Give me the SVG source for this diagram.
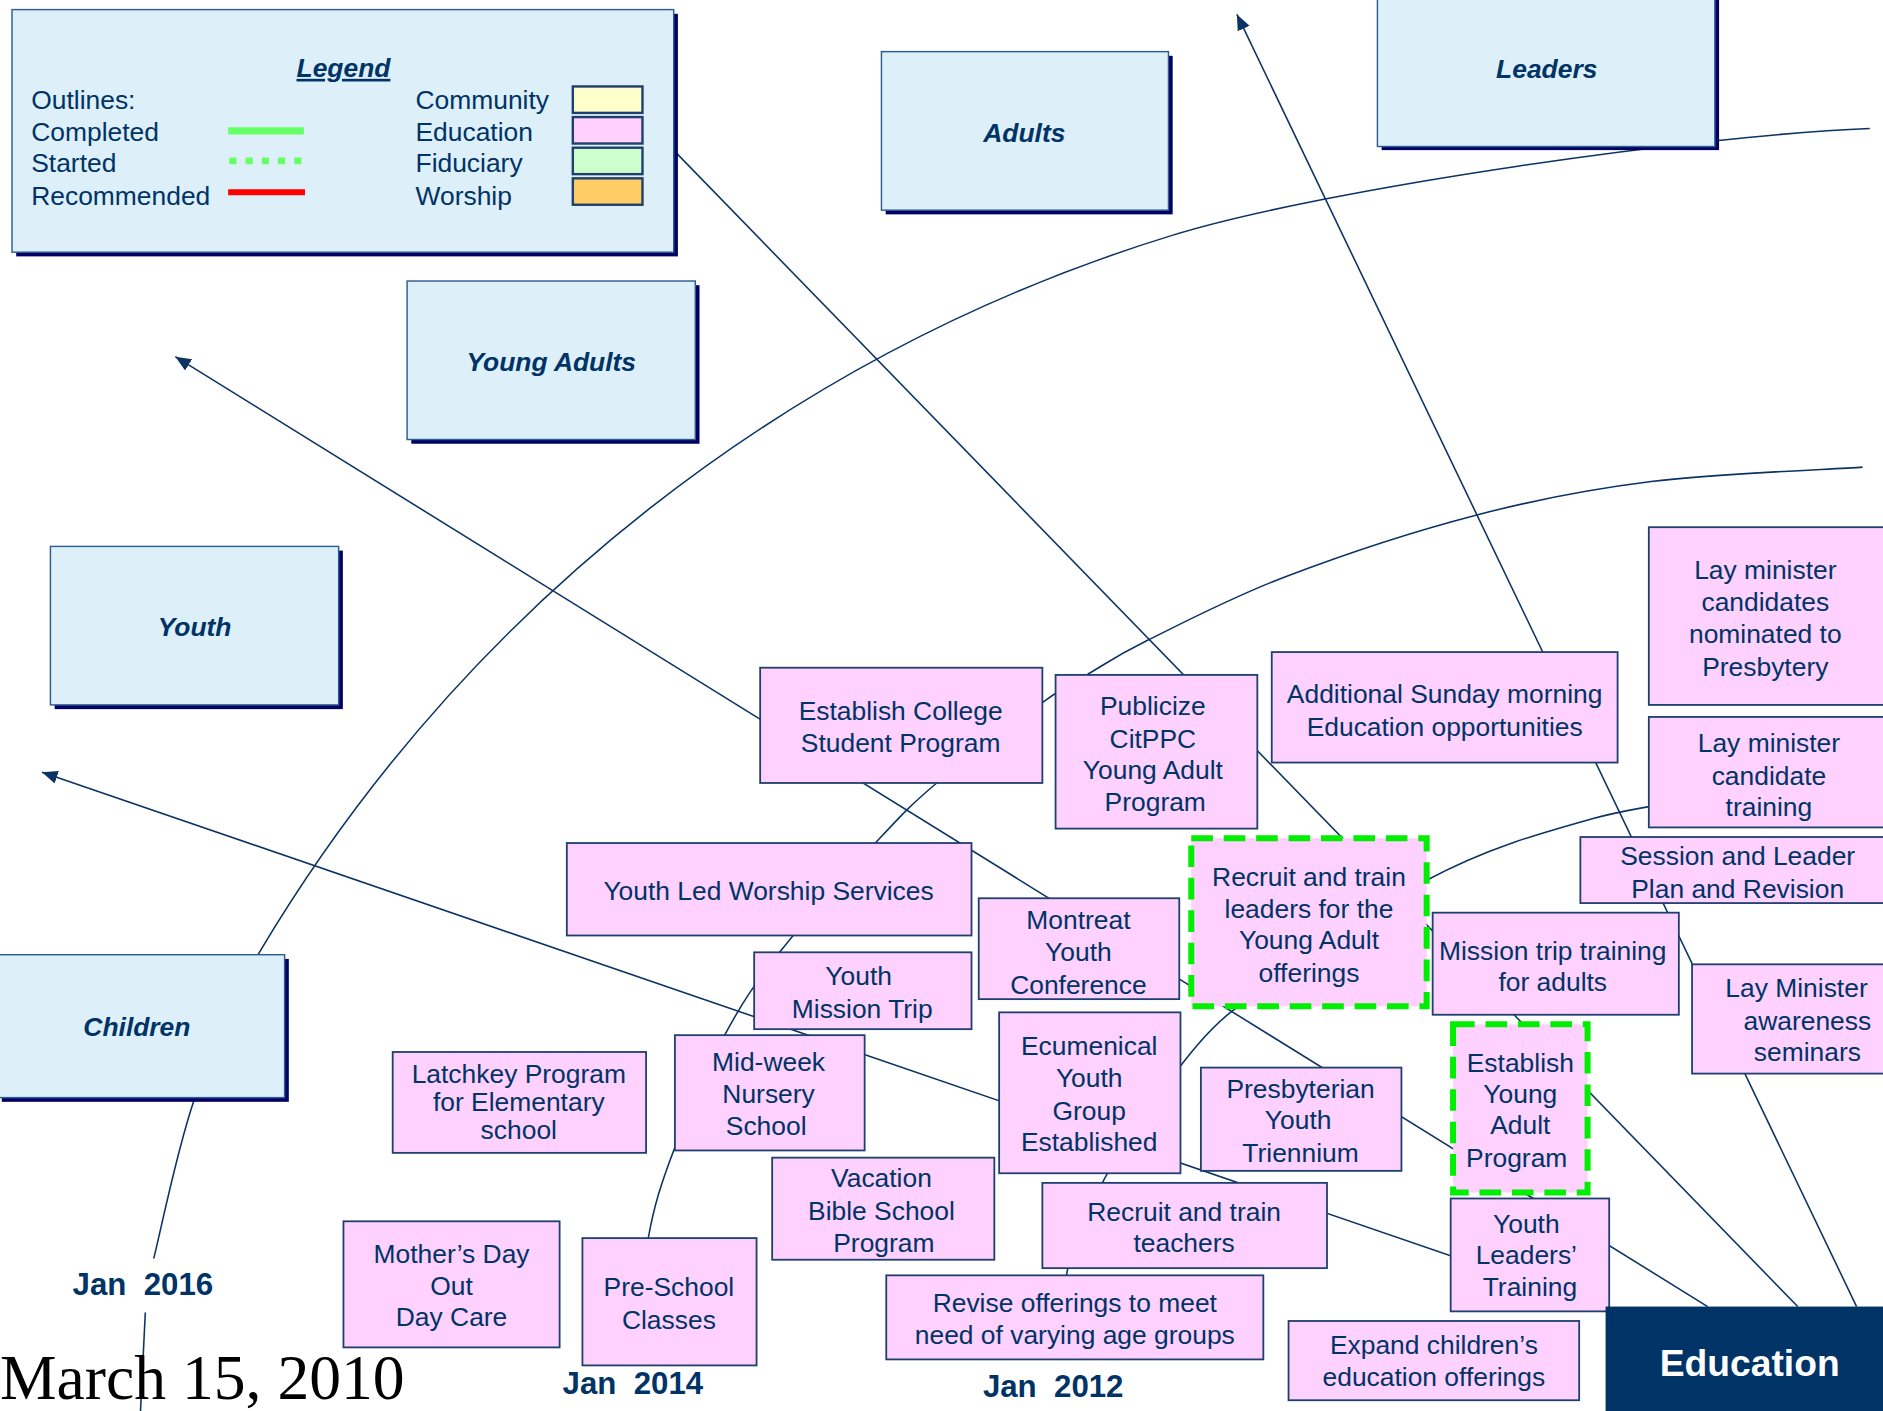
<svg xmlns="http://www.w3.org/2000/svg" width="1883" height="1411" viewBox="0 0 1883 1411">
<defs>
<style>
.cat{fill:#DDEFF9;stroke:#2E5E8E;stroke-width:1.2}
.shd{fill:#000066}
.box{fill:#FFD1FF;stroke:#1F3F6F;stroke-width:1.5}
.dash{fill:#FFD1FF;stroke:#00EE00;stroke-width:5;stroke-dasharray:18 9}
.t{font-family:"Liberation Sans",Arial,sans-serif;font-size:22px;fill:#003366;text-anchor:middle}
.tl{font-family:"Liberation Sans",Arial,sans-serif;font-size:22px;fill:#003366;text-anchor:start}
.ct{font-weight:bold;font-style:italic}
.ln{fill:none;stroke:#0B3363;stroke-width:1.3}
.yr{font-family:"Liberation Sans",Arial,sans-serif;font-weight:bold;font-size:26px;fill:#003366;text-anchor:middle}
.sw{stroke:#1F3F6F;stroke-width:2}
</style>
<marker id="arr" markerUnits="userSpaceOnUse" markerWidth="13" markerHeight="11" viewBox="0 0 13 11" refX="13" refY="5.5" orient="auto-start-reverse">
<path d="M0,0 L13,5.5 L0,11 z" fill="#0B3363"/>
</marker>
</defs>
<rect width="1883" height="1411" fill="#ffffff"/>
<g transform="scale(1.20089)">

<g id="connectors">
<path class="ln" d="M1030,12 L1546,1088" marker-start="url(#arr)"/>
<path class="ln" d="M146,297 L1422,1088" marker-start="url(#arr)"/>
<path class="ln" d="M555,119 L1497,1088"/>
<path class="ln" d="M35,643 L1337,1090" marker-start="url(#arr)"/>
<!-- Jan 2016 contour -->
<path class="ln" d="M117,1175 L121,1093"/>
<path class="ln" d="M128,1048 C133.7,1025.8 147.3,957.5 162,915 C176.7,872.5 184.8,845.8 216,793 A1344,1344 0 0 1 976,196 C1106,156 1420,112 1557,107"/>
<!-- Jan 2014 contour -->
<path class="ln" d="M532,1115 C533.3,1100.8 535.2,1056.2 540,1030 C544.8,1003.8 550.3,986.2 561,958 C571.7,929.8 589.2,888.7 604,861 C618.8,833.3 629.3,818.3 650,792 C670.7,765.7 706.3,726.3 728,703 C749.7,679.7 756.7,671.7 780,652 C803.3,632.3 847.2,600 868,585 C888.8,570 890.3,570.7 905,562 C919.7,553.3 928.3,546.7 956,533 C983.7,519.3 1025.5,497.3 1071,480 C1116.5,462.7 1178.3,442.2 1229,429 C1279.7,415.8 1321.3,407.7 1375,401 C1428.7,394.3 1521.7,391 1551,389"/>
<!-- Jan 2012 contour -->
<path class="ln" d="M886,1120 C886.5,1109.5 883.3,1080.2 889,1057 C894.7,1033.8 904.5,1009 920,981 C935.5,953 964.3,912.2 982,889 C990.8,877.4 1009,855 1026,842 C1060.3,816 1138.2,759.7 1188,733 C1237.8,706.3 1281.3,694.2 1325,682 C1368.7,669.8 1429.2,663.7 1450,660"/>
</g>

<g id="legend">
<rect class="shd" x="13.5" y="11.5" width="551" height="202"/>
<rect class="cat" x="10" y="8" width="551" height="202"/>
<text class="t ct" x="286" y="64" text-decoration="underline">Legend</text>
<text class="tl" x="26" y="90.5">Outlines:</text>
<text class="tl" x="26" y="117.5">Completed</text>
<text class="tl" x="26" y="143.5">Started</text>
<text class="tl" x="26" y="170.5">Recommended</text>
<line x1="190" y1="109" x2="253" y2="109" stroke="#66FF66" stroke-width="6"/>
<line x1="191" y1="134" x2="251" y2="134" stroke="#66FF66" stroke-width="5.5" stroke-dasharray="6 7.5"/>
<line x1="190" y1="160" x2="254" y2="160" stroke="#FF0000" stroke-width="5"/>
<text class="tl" x="346" y="90.5">Community</text>
<text class="tl" x="346" y="117.5">Education</text>
<text class="tl" x="346" y="143.5">Fiduciary</text>
<text class="tl" x="346" y="170.5">Worship</text>
<rect class="sw" x="477" y="72" width="58" height="22" fill="#FFFFCC"/>
<rect class="sw" x="477" y="97.5" width="58" height="22" fill="#FFD1FF"/>
<rect class="sw" x="477" y="123" width="58" height="22" fill="#CCFFCC"/>
<rect class="sw" x="477" y="148.5" width="58" height="22" fill="#FFCC66"/>
</g>

<g id="adults">
<rect class="shd" x="737.5" y="46.5" width="239" height="132"/>
<rect class="cat" x="734" y="43" width="239" height="132"/>
<text class="t ct" x="853" y="118">Adults</text>
</g>
<g id="leaders">
<rect class="shd" x="1150.5" y="-2" width="281" height="127"/>
<rect class="cat" x="1147" y="-5" width="281" height="127"/>
<text class="t ct" x="1288" y="65">Leaders</text>
</g>
<g id="young-adults">
<rect class="shd" x="342.5" y="237.5" width="240" height="132"/>
<rect class="cat" x="339" y="234" width="240" height="132"/>
<text class="t ct" x="459" y="309">Young Adults</text>
</g>
<g id="youth">
<rect class="shd" x="45.5" y="458.5" width="240" height="132"/>
<rect class="cat" x="42" y="455" width="240" height="132"/>
<text class="t ct" x="162" y="530">Youth</text>
</g>
<g id="children">
<rect class="shd" x="1.5" y="798.5" width="239" height="119"/>
<rect class="cat" x="-2" y="795" width="239" height="119"/>
<text class="t ct" x="114" y="863">Children</text>
</g>

<g id="n-college"><rect class="box" x="633" y="556" width="235" height="96"/>
<text class="t" x="750" y="599.5">Establish College</text><text class="t" x="750" y="626.5">Student Program</text></g>
<g id="n-publicize"><rect class="box" x="879" y="562" width="168" height="128"/>
<text class="t" x="960" y="595.5">Publicize</text><text class="t" x="960" y="622.5">CitPPC</text><text class="t" x="960" y="648.5">Young Adult</text><text class="t" x="962" y="675.5">Program</text></g>
<g id="n-sunday"><rect class="box" x="1059" y="543" width="288" height="92"/>
<text class="t" x="1203" y="585.5">Additional Sunday morning</text><text class="t" x="1203" y="612.5">Education opportunities</text></g>
<g id="n-lay-nominated"><rect class="box" x="1373" y="439" width="200" height="148"/>
<text class="t" x="1470" y="482.5">Lay minister</text><text class="t" x="1470" y="508.5">candidates</text><text class="t" x="1470" y="535.5">nominated to</text><text class="t" x="1470" y="562.5">Presbytery</text></g>
<g id="n-lay-training"><rect class="box" x="1373" y="597" width="200" height="92"/>
<text class="t" x="1473" y="626.5">Lay minister</text><text class="t" x="1473" y="653.5">candidate</text><text class="t" x="1473" y="679.5">training</text></g>
<g id="n-session"><rect class="box" x="1316" y="697" width="260" height="55"/>
<text class="t" x="1447" y="720.5">Session and Leader</text><text class="t" x="1447" y="747.5">Plan and Revision</text></g>
<g id="n-youth-worship"><rect class="box" x="472" y="702" width="337" height="77"/>
<text class="t" x="640" y="749.5">Youth Led Worship Services</text></g>
<g id="n-montreat"><rect class="box" x="815" y="748" width="167" height="84"/>
<text class="t" x="898" y="773.5">Montreat</text><text class="t" x="898" y="800.5">Youth</text><text class="t" x="898" y="827.5">Conference</text></g>
<g id="n-recruit-leaders"><rect class="dash" x="992" y="698" width="196" height="140"/>
<text class="t" x="1090" y="737.5">Recruit and train</text><text class="t" x="1090" y="764.5">leaders for the</text><text class="t" x="1090" y="790.5">Young Adult</text><text class="t" x="1090" y="817.5">offerings</text></g>
<g id="n-mission-adults"><rect class="box" x="1193" y="760" width="205" height="85"/>
<text class="t" x="1293" y="799.5">Mission trip training</text><text class="t" x="1293" y="825.5">for adults</text></g>
<g id="n-lay-awareness"><rect class="box" x="1409" y="803" width="170" height="91"/>
<text class="t" x="1496" y="830.5">Lay Minister</text><text class="t" x="1505" y="857.5">awareness</text><text class="t" x="1505" y="883.5">seminars</text></g>
<g id="n-youth-mission"><rect class="box" x="628" y="793" width="181" height="64"/>
<text class="t" x="715" y="820.5">Youth</text><text class="t" x="718" y="847.5">Mission Trip</text></g>
<g id="n-midweek"><rect class="box" x="562" y="862" width="158" height="96"/>
<text class="t" x="640" y="891.5">Mid-week</text><text class="t" x="640" y="918.5">Nursery</text><text class="t" x="638" y="945.5">School</text></g>
<g id="n-latchkey"><rect class="box" x="327" y="876" width="211" height="84"/>
<text class="t" x="432" y="901.5">Latchkey Program</text><text class="t" x="432" y="925.5">for Elementary</text><text class="t" x="432" y="948.5">school</text></g>
<g id="n-ecumenical"><rect class="box" x="832" y="843" width="151" height="134"/>
<text class="t" x="907" y="878.5">Ecumenical</text><text class="t" x="907" y="905.5">Youth</text><text class="t" x="907" y="932.5">Group</text><text class="t" x="907" y="958.5">Established</text></g>
<g id="n-triennium"><rect class="box" x="1000" y="889" width="167" height="86"/>
<text class="t" x="1083" y="914.5">Presbyterian</text><text class="t" x="1081" y="940.5">Youth</text><text class="t" x="1083" y="967.5">Triennium</text></g>
<g id="n-establish-ya"><rect class="dash" x="1210" y="853" width="112" height="140"/>
<text class="t" x="1266" y="892.5">Establish</text><text class="t" x="1266" y="918.5">Young</text><text class="t" x="1266" y="944.5">Adult</text><text class="t" x="1263" y="971.5">Program</text></g>
<g id="n-vbs"><rect class="box" x="643" y="964" width="185" height="85"/>
<text class="t" x="734" y="988.5">Vacation</text><text class="t" x="734" y="1015.5">Bible School</text><text class="t" x="736" y="1042.5">Program</text></g>
<g id="n-teachers"><rect class="box" x="868" y="985" width="237" height="71"/>
<text class="t" x="986" y="1016.5">Recruit and train</text><text class="t" x="986" y="1042.5">teachers</text></g>
<g id="n-youth-leaders"><rect class="box" x="1208" y="998" width="132" height="94"/>
<text class="t" x="1271" y="1026.5">Youth</text><text class="t" x="1271" y="1052.5">Leaders’</text><text class="t" x="1274" y="1079.5">Training</text></g>
<g id="n-mothers"><rect class="box" x="286" y="1017" width="180" height="105"/>
<text class="t" x="376" y="1051.5">Mother’s Day</text><text class="t" x="376" y="1078.5">Out</text><text class="t" x="376" y="1104.5">Day Care</text></g>
<g id="n-preschool"><rect class="box" x="485" y="1031" width="145" height="106"/>
<text class="t" x="557" y="1079.5">Pre-School</text><text class="t" x="557" y="1106.5">Classes</text></g>
<g id="n-revise"><rect class="box" x="738" y="1062" width="314" height="70"/>
<text class="t" x="895" y="1092.5">Revise offerings to meet</text><text class="t" x="895" y="1119.5">need of varying age groups</text></g>
<g id="n-expand"><rect class="box" x="1073" y="1100" width="242" height="66"/>
<text class="t" x="1194" y="1127.5">Expand children’s</text><text class="t" x="1194" y="1154.5">education offerings</text></g>

<g id="education">
<rect x="1337" y="1088" width="240" height="95" fill="#003366"/>
<text x="1457" y="1146" font-family="Liberation Sans, Arial, sans-serif" font-weight="bold" font-size="31" fill="#ffffff" text-anchor="middle">Education</text>
</g>

<g id="labels">
<text class="yr" x="119" y="1078">Jan&#160; 2016</text>
<text class="yr" x="527" y="1161">Jan&#160; 2014</text>
<text class="yr" x="877" y="1163">Jan&#160; 2012</text>
<text x="0" y="1165" font-family="Liberation Serif, Times New Roman, serif" font-size="53" fill="#000000">March 15, 2010</text>
</g>
</g>
</svg>
